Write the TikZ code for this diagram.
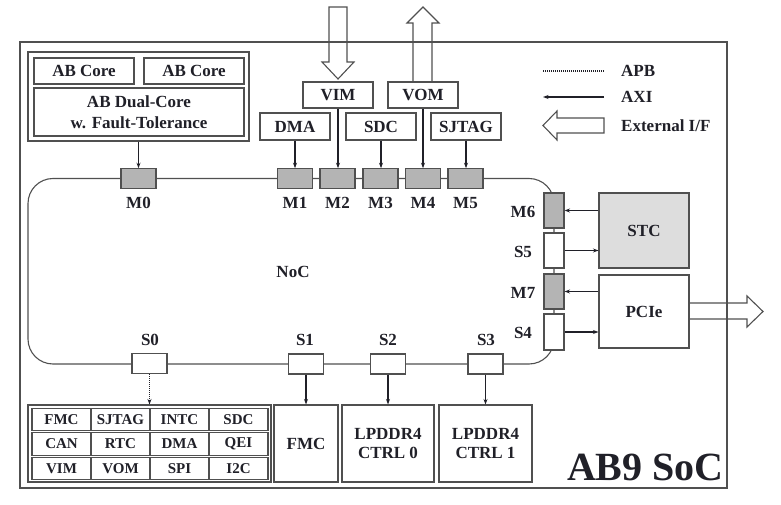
\documentclass[tikz,border=0pt]{standalone}
\usepackage{fontspec}
\setmainfont{Liberation Serif}
\usetikzlibrary{arrows.meta}
\definecolor{ln}{HTML}{505050}
\definecolor{tx}{HTML}{202028}
\definecolor{mfill}{HTML}{B4B4B4}
\definecolor{stcfill}{HTML}{DDDDDD}
\begin{document}
\begin{tikzpicture}[x=1pt,y=-1pt,
  every node/.style={text=tx, font=\bfseries\fontsize{17}{20}\selectfont},
  blk/.style={draw=ln, line width=1.1pt, fill=white, inner sep=0pt, align=center},
  port/.style={blk, minimum width=35, minimum height=19.5},
  mport/.style={port, fill=mfill},
  vport/.style={blk, minimum width=20, minimum height=35},
  mvport/.style={vport, fill=mfill},
  cell/.style={blk, minimum width=59, minimum height=22.5, font=\bfseries\fontsize{15}{17}\selectfont},
  lab/.style={inner sep=0pt},
  axi/.style={draw=tx, line width=1.3pt, -{Stealth[length=5.5pt,width=4pt]}},
  apb/.style={draw=tx, line width=1.3pt, dash pattern=on 1pt off 1pt, -{Stealth[length=5.5pt,width=4pt]}},
  hollow/.style={draw=ln, line width=1.1pt, line join=miter}
]
\useasboundingbox (0,0) rectangle (781,505);

% SoC boundary
\node[draw=ln, line width=1.4pt, minimum width=707, minimum height=446, inner sep=0pt] (soc) at (373.5,265) {};

% NoC ring
\draw[ln, line width=1.1pt, rounded corners=25] (28,178.5) rectangle (554,364);
\node[lab] (noc) at (293,272) {NoC};

% CPU cluster
\node[blk, minimum width=221, minimum height=89] (cpu) at (138.5,96.5) {};
\node[blk, minimum width=100, minimum height=26] (core1) at (84,71) {AB Core};
\node[blk, minimum width=100, minimum height=26] (core2) at (194,71) {AB Core};
\node[blk, minimum width=210, minimum height=48, font=\bfseries\fontsize{17}{20.5}\selectfont] (dual) at (139,112) {AB Dual-Core\\w. Fault-Tolerance};

% master ports top
\node[mport] (m0) at (138.5,178.5) {};
\node[mport] (m1) at (295,178.5) {};
\node[mport] (m2) at (337.5,178.5) {};
\node[mport] (m3) at (380.5,178.5) {};
\node[mport] (m4) at (423,178.5) {};
\node[mport] (m5) at (465.5,178.5) {};
\node[lab] at (138.5,203) {M0};
\node[lab] at (295,203) {M1};
\node[lab] at (337.5,203) {M2};
\node[lab] at (380.5,203) {M3};
\node[lab] at (423,203) {M4};
\node[lab] at (465.5,203) {M5};

% top peripherals
\node[blk, minimum width=70, minimum height=27] (dma) at (295,126.5) {DMA};
\node[blk, minimum width=70, minimum height=27] (sdc) at (381,126.5) {SDC};
\node[blk, minimum width=70, minimum height=27] (sjtag) at (466,126.5) {SJTAG};
\node[blk, minimum width=70, minimum height=26] (vim) at (338,95) {VIM};
\node[blk, minimum width=70, minimum height=26] (vom) at (423,95) {VOM};

\draw[axi] (cpu.south) -- (cpu.south |- m0.north);
\draw[axi] (dma.south) -- (dma.south |- m1.north);
\draw[axi] (vim.south) -- (vim.south |- m2.north);
\draw[axi] (sdc.south) -- (sdc.south |- m3.north);
\draw[axi] (vom.south) -- (vom.south |- m4.north);
\draw[axi] (sjtag.south) -- (sjtag.south |- m5.north);

% external I/F arrows for VIM / VOM
\draw[hollow] (329,7) -- (347,7) -- (347,62) -- (354,62) -- (338,79) -- (322,62) -- (329,62) -- cycle;
\draw[hollow] (413,82) -- (413,23) -- (407,23) -- (423,7) -- (439,23) -- (432,23) -- (432,82);

% legend
\coordinate (apbA) at (543,71); \coordinate (apbB) at (604,71);
\draw[tx, line width=1.3pt, dash pattern=on 1pt off 1pt] (apbA) -- (apbB);
\node[lab, anchor=west] (apbT) at (621,71) {APB};
\coordinate (axiA) at (604,97); \coordinate (axiB) at (543,97);
\draw[axi] (axiA) -- (axiB);
\node[lab, anchor=west] (axiT) at (621,97) {AXI};
\draw[hollow] (604,118) -- (557,118) -- (557,111) -- (543,125.5) -- (557,140) -- (557,133) -- (604,133) -- cycle;
\node[lab, anchor=west] (extT) at (621,126) {External I/F};

% right side ports
\node[mvport] (m6) at (554,210.5) {};
\node[vport] (s5) at (554,250.5) {};
\node[mvport] (m7) at (554,291.5) {};
\node[vport, minimum height=36] (s4) at (554,332) {};
\node[lab] at (523,212) {M6};
\node[lab] at (523,252) {S5};
\node[lab] at (523,293) {M7};
\node[lab] at (523,333) {S4};

\node[blk, fill=stcfill, minimum width=90, minimum height=75] (stc) at (644,230.5) {STC};
\node[blk, minimum width=90, minimum height=73] (pcie) at (644,311.5) {PCIe};
\draw[axi] (stc.west |- m6.east) -- (m6.east);
\draw[axi] (s5.east) -- (s5.east -| stc.west);
\draw[axi] (pcie.west |- m7.east) -- (m7.east);
\draw[axi] (s4.east) -- (s4.east -| pcie.west);
\draw[hollow] (689,303) -- (747,303) -- (747,296) -- (763,311.5) -- (747,327) -- (747,319) -- (689,319);

% bottom slave ports
\node[port, minimum height=20] (s0) at (149.5,363.5) {};
\node[port, minimum height=20] (s1) at (306,364) {};
\node[port, minimum height=20] (s2) at (388,364) {};
\node[port, minimum height=20] (s3) at (485.5,364) {};
\node[lab] at (150,340) {S0};
\node[lab] at (305,340) {S1};
\node[lab] at (388,340) {S2};
\node[lab] at (486,340) {S3};

% peripheral group
\node[blk, minimum width=243, minimum height=77] (per) at (149.5,443.5) {};
\node[cell] (c11) at (61.5,419.5) {FMC};
\node[cell] (c12) at (120.5,419.5) {SJTAG};
\node[cell] (c13) at (179.5,419.5) {INTC};
\node[cell] (c14) at (238.5,419.5) {SDC};
\node[cell] (c21) at (61.5,444) {CAN};
\node[cell] (c22) at (120.5,444) {RTC};
\node[cell] (c23) at (179.5,444) {DMA};
\node[cell] (c24) at (238.5,444) {QEI};
\node[cell] (c31) at (61.5,468.5) {VIM};
\node[cell] (c32) at (120.5,468.5) {VOM};
\node[cell] (c33) at (179.5,468.5) {SPI};
\node[cell] (c34) at (238.5,468.5) {I2C};
\draw[apb] (s0.south) -- (s0.south |- per.north);

\node[blk, minimum width=64, minimum height=77] (fmc) at (306,443.5) {FMC};
\node[blk, minimum width=92, minimum height=77, font=\bfseries\fontsize{17}{19.5}\selectfont] (lp0) at (388,443.5) {LPDDR4\\CTRL 0};
\node[blk, minimum width=93, minimum height=77, font=\bfseries\fontsize{17}{19.5}\selectfont] (lp1) at (485.5,443.5) {LPDDR4\\CTRL 1};
\draw[axi] (s1.south) -- (s1.south |- fmc.north);
\draw[axi] (s2.south) -- (s2.south |- lp0.north);
\draw[axi] (s3.south) -- (s3.south |- lp1.north);

% title
\node[lab, anchor=base east, font=\bfseries\fontsize{40}{44}\selectfont] (title) at (724,480) {AB9 SoC};
\end{tikzpicture}
\end{document}
